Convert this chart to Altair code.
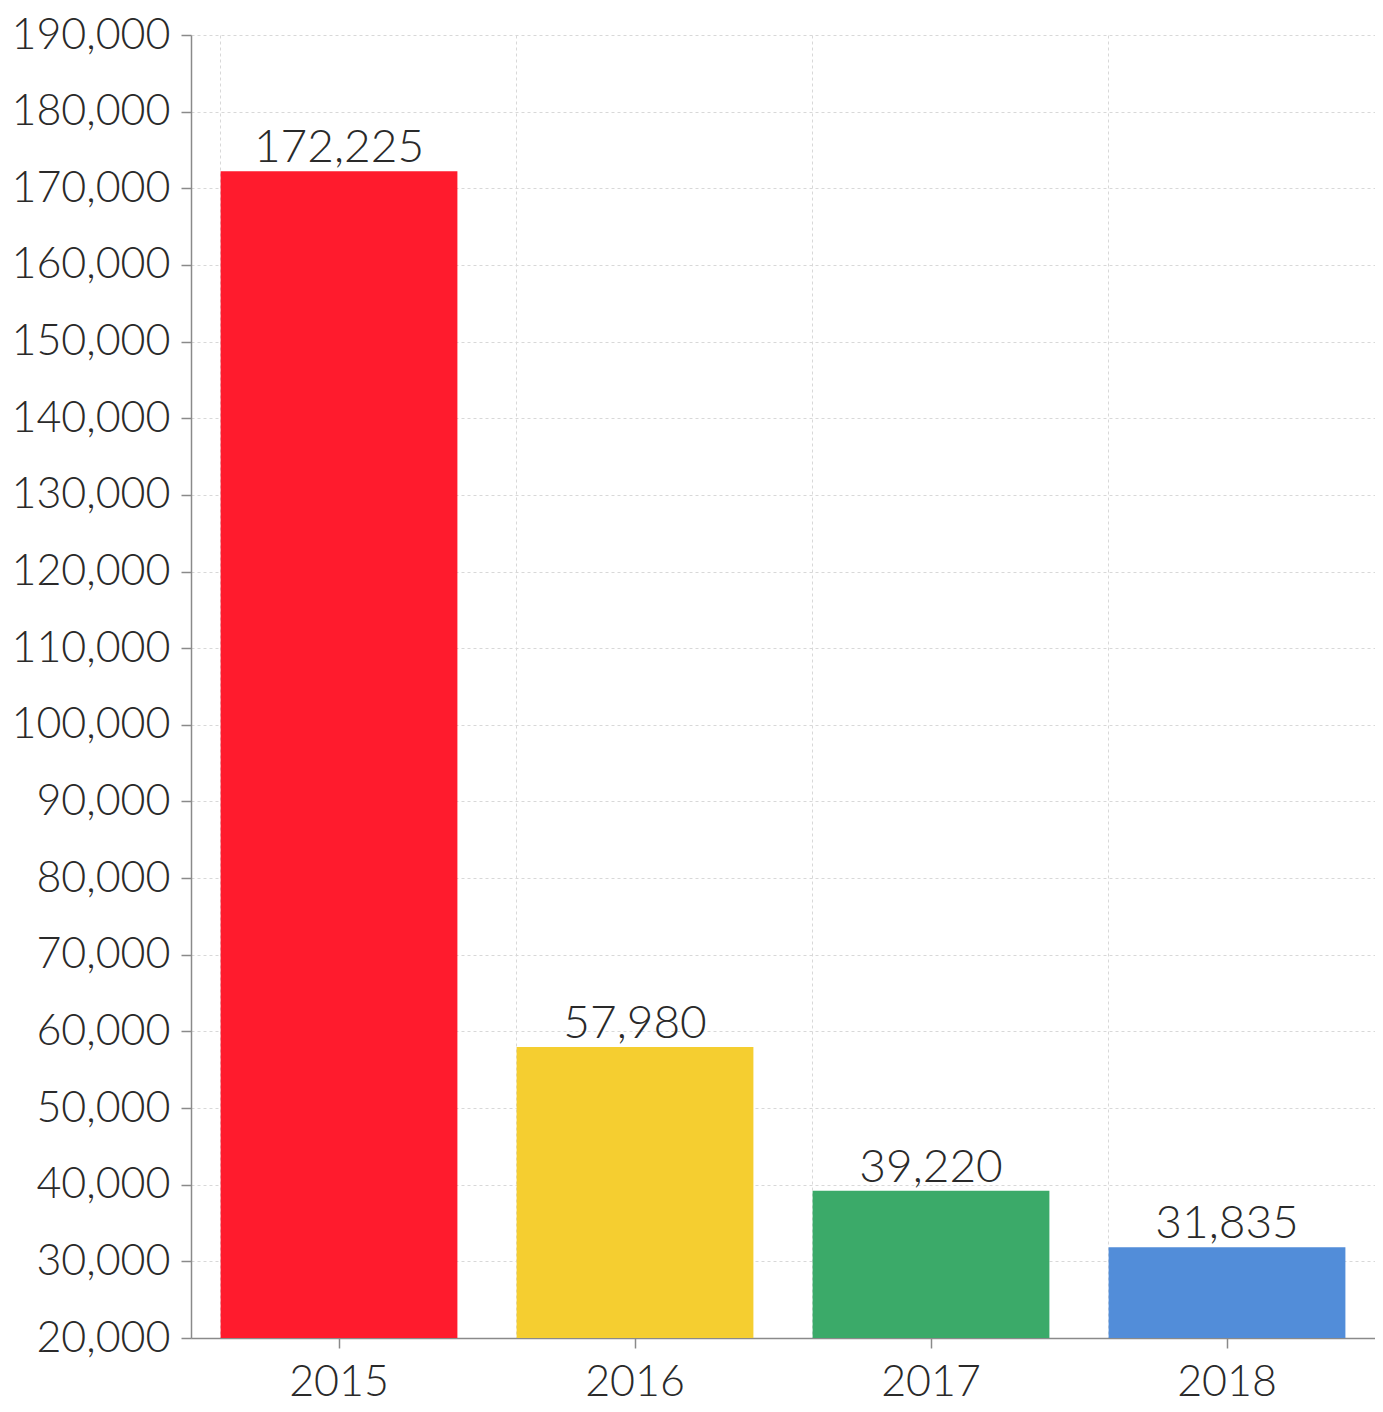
import altair as alt
import pandas as pd

years = ["2015", "2016", "2017", "2018"]
values = [172225, 57980, 39220, 31835]
colors = ["#FF1B2D", "#F5CE30", "#3BAA69", "#528DD9"]
y_ticks = [20000, 30000, 40000, 50000, 60000, 70000, 80000, 90000, 100000,
           110000, 120000, 130000, 140000, 150000, 160000, 170000, 180000, 190000]

df = pd.DataFrame({"year": years, "value": values, "color": colors})

FONT = "Lato"
TEXT = "#2a2a2a"
AXIS = "#8a8a8a"
GRID = "#d8d8d8"

xscale = alt.Scale(domain=years, paddingInner=0.2, paddingOuter=0.1)
yscale = alt.Scale(domain=[20000, 190000], zero=False, nice=False)

yaxis = alt.Axis(values=y_ticks, format=",d", title=None, grid=True,
                 gridColor=GRID, gridDash=[3, 3], gridWidth=1,
                 domainColor=AXIS, domainWidth=1.5, tickColor=AXIS,
                 tickWidth=1.5, tickSize=10, labelFont=FONT, labelFontWeight=300,
                 labelFontSize=43, labelColor=TEXT, labelPadding=11)

bars = alt.Chart(df).mark_bar().encode(
    x=alt.X("year:N", scale=xscale, sort=years,
            axis=alt.Axis(orient="bottom", grid=True, bandPosition=0, labels=False,
                          ticks=False, domain=False, title=None,
                          gridColor=GRID, gridDash=[3, 3], gridWidth=1)),
    y=alt.Y("value:Q", scale=yscale, axis=yaxis),
    y2=alt.datum(20000),
    color=alt.Color("color:N", scale=None),
)

labels = alt.Chart(df).mark_text(baseline="bottom", dy=1, fontSize=46, font=FONT,
                                 fontWeight=300, color=TEXT).encode(
    x=alt.X("year:N", scale=xscale, sort=years,
            axis=alt.Axis(orient="bottom", grid=False, title=None, domainColor=AXIS,
                          domainWidth=1.5, tickColor=AXIS, tickWidth=1.5, tickSize=10,
                          labelFont=FONT, labelFontWeight=300, labelFontSize=43,
                          labelColor=TEXT, labelPadding=13, labelAngle=0)),
    y=alt.Y("value:Q", scale=yscale, axis=yaxis),
    text=alt.Text("value:Q", format=",d"),
)

chart = alt.layer(bars, labels).resolve_axis(x="independent").properties(
    width=1184, height=1303, background="white",
    autosize=alt.AutoSizeParams(type="none"),
    padding={"left": 183, "top": 27, "right": 0, "bottom": 66},
).configure_view(stroke=None)

chart.save("out.html", embed_options={"renderer": "svg", "actions": False})
